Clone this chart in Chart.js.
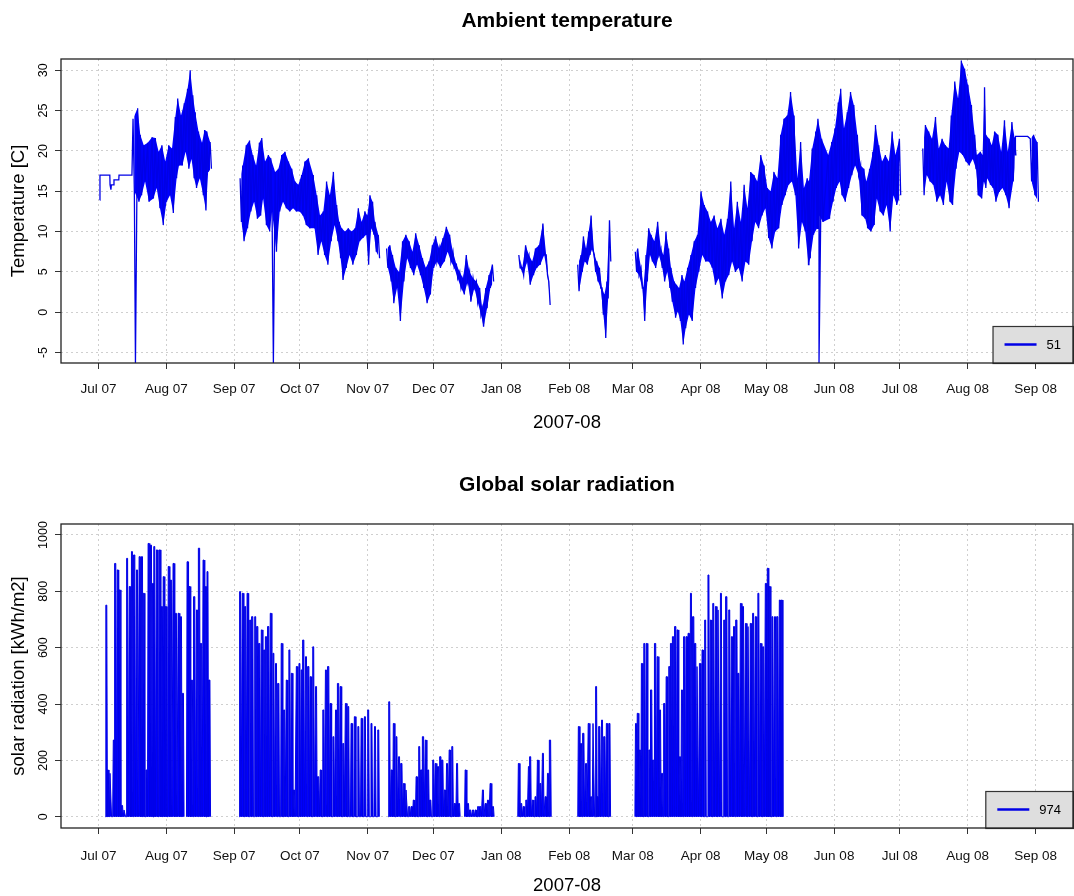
<!DOCTYPE html>
<html>
<head>
<meta charset="utf-8">
<script src="https://cdn.jsdelivr.net/npm/chart.js@4.4.1/dist/chart.umd.min.js"></script>
<style>
  body { margin: 0; background: #fff; }
  .panel { width: 1074px; height: 448px; position: relative; }
  canvas { display: block; }
</style>
</head>
<body>
<div class="panel"><canvas id="temp" width="1074" height="448"></canvas></div>
<div class="panel"><canvas id="rad" width="1074" height="448"></canvas></div>
<script>
// x axis: days since 1 Jul 2007
const monthDays = [0, 31, 62, 92, 123, 153, 184, 215, 244, 275, 305, 336, 366, 397, 428];
const monthLabels = ["Jul 07", "Aug 07", "Sep 07", "Oct 07", "Nov 07", "Dec 07", "Jan 08", "Feb 08",
    "Mar 08", "Apr 08", "May 08", "Jun 08", "Jul 08", "Aug 08", "Sep 08"];

const tempTicks = [-5, 0, 5, 10, 15, 20, 25, 30];
const radTicks = [0, 200, 400, 600, 800, 1000];

// ambient temperature: day, upper and lower envelope (null = no data)
const tempDay = [
    0.6, 0.7, 5.2, 5.3, 5.7, 5.9, 7.0, 7.1, 9.3, 9.4, 15.3,
    15.8, 16.9, 17.9, 19.1, 20.7, 22.5, 24.5, 26.0, 27.5, 29.0, 30.5, 32.1, 33.6, 35.1, 36.2, 37.7, 39.2, 40.7, 41.9, 43.1, 44.2, 45.7, 47.3, 48.5, 49.5, 51.0,
    57,
    64.7, 65.9, 67.5, 69.0, 70.5, 72.0, 73.5, 74.6, 76.1, 77.6, 78.7, 79.9, 80.7, 82.2, 83.7, 85.2, 86.8, 88.3, 89.8, 91.3, 92.8, 94.3, 95.9,
    98.1, 99.7, 101.2, 102.7, 104.2, 105.7, 107.3, 108.8, 110.0, 111.1, 112.6, 114.1, 115.6, 117.2, 118.7, 120.2, 121.7, 122.8, 124.0, 125.2, 126.3, 127.8,
    130,
    131.6, 133.1, 134.3, 135.8, 137.3, 138.9, 140.4, 141.9, 143.4, 144.9, 146.5, 148.0, 149.5, 151.0, 152.5, 154.0, 155.6, 157.4, 158.9, 160.4, 161.9, 163.5, 165.0, 166.5, 168.0, 169.5, 171.1, 172.6, 174.1, 175.3, 176.9, 178.4, 179.9,
    186,
    192.0, 193.6, 195.1, 196.6, 198.1, 199.6, 201.2, 203.0, 204.5, 205.7,
    212,
    218.9, 220.4, 221.5, 222.7, 223.9, 225.0, 226.5, 227.6, 228.8, 230.0, 231.1, 232.2, 233.4,
    240,
    245.2, 246.3, 247.8, 248.9, 250.1, 251.3, 252.4, 253.9, 255.4, 256.9, 258.0, 259.2, 260.4, 261.5, 263.0, 264.0, 265.2, 266.5, 267.6, 269.1,
    270.6, 272.1, 273.6, 275.2, 276.7, 278.2, 279.7, 281.2, 282.7, 284.3, 285.8, 287.3, 288.8, 290.3, 291.8, 293.4, 294.9, 296.4, 297.9, 299.4,
    300.9, 302.5, 304.0, 305.5, 307.0, 308.5, 310.1, 311.6, 313.1, 314.6, 316.1, 317.7, 319.2, 320.7, 322.2, 323.7, 324.5, 326.0, 327.6, 328.6,
    329.1, 330.3, 333.3, 334.9, 336.4, 337.9, 339.0, 340.5, 342.0, 343.5, 345.0, 346.6, 348.1, 349.6, 350.7, 352.2, 353.7, 354.9, 356.4, 357.9,
    359.4, 361.0, 362.5, 364.0, 365.8,
    371,
    376.5, 377.7, 379.2, 380.7, 382.3, 383.8, 385.3, 386.8, 388.3, 389.5, 391.1, 392.6, 394.1, 395.6, 397.1, 398.7, 400.2, 401.2, 402.8, 403.8,
    404.7, 405.3, 406.8, 408.0, 409.3, 410.8, 412.3, 413.8, 415.3, 417.2, 418.4, 418.8, 424.4, 425.6, 427.1, 428.7
];
const tempHigh = [
    13.9, 17, 17, 15.8, 15.2, 15.8, 15.8, 16.4, 16.4, 17, 17,
    24, -6.3, 25.3, 22, 20.7, 21, 21.7, 21.6, 19.9, 20.7, 18.7, 20.7, 20.3, 24.2, 26.5, 24.4, 25.9, 27.7, 30, 26.9, 24.8, 22.4, 21, 22.6, 22.4, 21.1,
    null,
    16.6, 18.2, 20.7, 21.3, 19.5, 18.2, 21, 21.6, 18.7, 19.5, 19.1, -6.3, 17.4, 17.8, 19.5, 19.9, 18.7, 17.8, 16.2, 15.8, 17, 18.7, 19.1,
    17, 14.5, 12, 12.5, 16.2, 14.5, 17.4, 13.3, 11.2, 10.4, 10, 10.4, 10, 10.4, 12.9, 11.2, 12.5, 12, 14.5, 13.7, 11.2, 9.6,
    null,
    7.9, 8.3, 7.1, 5.5, 5, 8.8, 9.6, 8.8, 7.5, 9.8, 8.3, 6.7, 5.5, 6.3, 8.3, 9.4, 7.9, 9.2, 10.6, 9.6, 7.5, 5.9, 5, 4.2, 7.1, 5, 4.2, 3.8, 3, 0.5, 3, 4.6, 5.9,
    null,
    7.1, 5.5, 8.3, 7.1, 6.3, 7.9, 8.3, 11, 7.1, 3.8,
    null,
    5.9, 7.1, 9.4, 7.9, 10, 12, 7.1, 6.3, 5.5, 3, 2.2, 3.8, 11.4,
    null,
    7.5, 7.9, 5.5, 3, 7.1, 10.4, 9.6, 8.8, 11.2, 7.9, 7.1, 10, 7.9, 5.5, 3.8, 3.4, 3, 4.6, 3.8, 5.5,
    7.1, 8.8, 9.6, 15, 13.3, 12.5, 11.2, 12, 10.4, 11.6, 9.6, 11.6, 16.2, 10.4, 13.7, 11.2, 15.8, 12.9, 17.4, 17,
    16.2, 19.5, 18.2, 15.4, 15, 17.4, 16.6, 22, 24, 24.4, 27.3, 24.4, 16.6, 21.1, 15.4, 16.6, 16.2, 20.3, 22.4, 24,
    -6.3, 21.5, 19.5, 21.1, 22.8, 26, 27.7, 22.8, 24.8, 27.3, 25.7, 22, 18.2, 17.8, 16.2, 17.8, 19.9, 23.2, 20.7, 18.7,
    19.5, 18.7, 22.4, 19.5, 21.5,
    null,
    20.3, 23.2, 22.4, 21.5, 24.2, 20.3, 21.5, 20.7, 20.3, 24.4, 28.6, 26.5, 31.2, 30.2, 28.2, 25.7, 22, 19.5, 19.9, 19.5,
    27.9, 22, 21.5, 20.7, 22.4, 22, 19.9, 23.8, 19.9, 23.6, 21.7, 21.8, 21.8, 21.5, 22, 21.1
];
const tempLow = [
    13.9, 17, 17, 15.8, 15.2, 15.8, 15.8, 16.4, 16.4, 17, 17,
    15, -6.3, 13.7, 14.5, 16.2, 13.7, 14.1, 15.4, 12.9, 10.8, 13.7, 14.5, 12.3, 16.6, 18.2, 18.2, 19.9, 17.8, 19, 16.6, 15.4, 16.6, 14.5, 12.6, 17.4, 17.8,
    null,
    11.2, 8.8, 10.4, 12.5, 13.7, 11.6, 12, 14.1, 10.8, 10, 12.5, -6.3, 7.5, 12.5, 13.7, 12.9, 12.5, 12.9, 12.5, 12.5, 12, 10.8, 10.4,
    10.4, 7.1, 8.8, 7.1, 5.9, 8.8, 10.8, 8.8, 6.7, 4, 5.5, 7.1, 5.9, 7.1, 8.8, 9.2, 9.6, 5.9, 10.4, 9.6, 7.5, 6.7,
    null,
    5.5, 3.8, 1.1, 3, -1.1, 3.8, 6.7, 5.5, 4.6, 5.9, 4.6, 3, 1.1, 2.2, 5.5, 6.3, 5.5, 6.3, 7.5, 6.3, 5.5, 4.2, 3, 2.2, 3.8, 1.3, 3, 1.3, -0.3, -1.8, 0.5, 3, 3.8,
    null,
    5.5, 4.6, 6.3, 3.4, 4.6, 5.5, 5.9, 7.1, 4.6, 0.9,
    null,
    2.6, 5, 6.3, 5.9, 7.1, 7.9, 5, 3.8, 3, -0.3, -3.2, 1.7, 6.3,
    null,
    5, 4.6, 3, -1.1, 3.8, 7.1, 6.3, 5.5, 7.1, 5.5, 3.8, 5, 3, 1.3, -0.7, 0.1, -1.1, -4, -2, -0.3,
    -1.1, 3, 5, 7.1, 6.3, 6.3, 5.5, 3.4, 4.2, 1.7, 3.8, 4.6, 6.3, 5, 5.5, 3.8, 6.3, 5.9, 8.8, 11.2,
    10.4, 12, 12.9, 9.2, 7.9, 10, 10.4, 13.3, 14.5, 15.8, 16.2, 14.5, 7.9, 11.2, 10, 5.9, 6.7, 9.6, 10.4, 12,
    -6.3, 11.2, 11.6, 13.7, 15.4, 16.2, 14.5, 13.7, 15.4, 17, 18.2, 17, 12, 11.6, 10.4, 10, 10.8, 14.1, 12.5, 12,
    13.3, 10, 14.5, 13.3, 14.5,
    null,
    14.5, 17, 16.2, 15.8, 13.7, 14.5, 13.3, 16.2, 13.7, 13.3, 17.8, 19.9, 19.5, 18.7, 18.2, 19, 17.8, 14.5, 14.1, 16.2,
    15.4, 16.6, 15.8, 15.4, 13.7, 14.9, 15.4, 14.5, 12.9, 16.2, 19.5, 21.8, 21.8, 16.2, 14.5, 13.7
];

// global solar radiation, daily peak (null = no data)
const radDay = [
    3.6, 4.3, 5.5, 7.0, 7.7, 8.8, 9.7, 10.8, 11.9, 13.1, 14.3, 15.3, 16.4, 17.6, 18.8, 19.9, 20.7, 21.9, 22.9, 24.0,
    24.9, 25.5, 26.7, 28.0, 29.0, 29.8, 30.8, 32.1, 33.1, 34.3, 35.4, 36.6, 37.7, 38.6, 39.8,
    40.7, 41.6, 42.7, 43.8, 45.0, 46.0, 46.9, 48.0, 49.1, 49.8, 50.7, 57,
    64.7, 65.9, 67.0, 68.1, 69.3, 70.3, 71.6, 72.6, 73.5, 74.6, 75.7, 76.6, 77.6, 78.7, 79.9, 81.1, 82.2, 83.7, 84.8, 86.0,
    87.2, 88.3, 89.3, 90.6, 91.8, 92.8, 93.6, 94.8, 95.9, 96.9, 98.1, 99.4, 100.4, 101.5, 102.7, 103.9, 105.0, 106.0, 107.3, 108.5,
    109.5, 110.6, 111.8, 113.0, 114.1, 115.6, 117.1, 118.7, 120.2, 121.7, 123.2, 124.7, 126.3, 127.8, 130,
    132.8, 133.9, 134.9, 136.1, 137.3, 138.4, 139.5, 140.7, 141.9, 143.0, 144.0, 145.3, 146.5, 147.5, 148.3, 149.5, 150.6, 151.6, 152.9, 154.0,
    155.1, 156.2, 157.1, 158.2, 159.2, 160.4, 161.6, 162.7, 163.8, 164.7, 166,
    167.7, 168.8, 169.8, 171.1, 172.3, 173.4, 174.4, 175.6, 176.8, 177.9, 179.1, 180.2, 186,
    192.0, 193.1, 194.2, 195.4, 196.6, 197.2, 198.4, 199.6, 200.7, 201.8, 203.0, 204.2, 205.3, 206.3, 213,
    219.4, 220.4, 221.5, 222.7, 223.9, 225.0, 226.1, 227.3, 228.0, 228.8, 230.0, 231.1, 232.2, 233.4, 240,
    245.5, 246.3, 247.3, 248.2, 249.3, 250.4, 251.6, 252.5, 253.4, 254.3, 255.4, 256.5, 257.4, 258.5, 259.5, 260.7, 261.6, 262.5, 263.5, 264.5,
    265.6, 266.5, 267.6, 268.6, 269.5, 270.6, 271.7, 272.6, 273.6, 274.7, 275.9, 277.1, 278.6, 279.7, 280.8, 282.0, 283.2, 284.3, 285.8, 286.8,
    288.1, 289.3, 290.3, 291.4, 292.3, 293.4, 294.4, 295.7, 296.9, 297.9, 299.0, 300.2, 301.4, 302.5, 303.6, 304.8, 305.7, 306.6, 307.8, 309.0,
    310.1, 311.2, 312.1
];
const radPeak = [
    751, 166, 154, 272, 899, 876, 805, 40, 24, 917, 817, 941, 929, 876, 923, 923, 793, 166, 970, 964,
    828, 959, 947, 947, 746, 852, 746, 888, 840, 899, 722, 722, 710, 438, null,
    905, 817, 485, 781, 734, 953, 615, 911, 817, 870, 485, null,
    799, 793, 746, 793, 698, 710, 710, 675, 615, 663, 592, 639, 675, 722, 580, 544, 473, 615, 379, 485,
    592, 509, 95, 533, 544, 521, 627, 568, 533, 497, 603, 462, 142, 166, 379, 521, 533, 402, 284, 379,
    473, 462, 260, 402, 391, 331, 355, 320, 349, 355, 379, 331, 320, 308, null,
    408, 166, 331, 284, 213, 189, 118, 95, 36, 36, 59, 142, 249, 166, 284, 272, 166, 59, 201, 189,
    178, 213, 201, 95, 189, 237, 249, 47, 189, 47, null,
    166, 47, 24, 24, 24, 36, 36, 95, 47, 59, 118, 36, null,
    189, 47, 36, 59, 178, 213, 59, 71, 201, 118, 225, 71, 154, 272, null,
    320, 260, 296, 189, 331, 71, 331, 462, 71, 320, 343, 284, 331, 331, null,
    331, 367, 237, 544, 615, 615, 237, 450, 201, 615, 568, 379, 154, 402, 497, 533, 615, 639, 675, 663,
    213, 450, 639, 639, 651, 793, 710, 615, 533, 544, 592, 698, 858, 698, 757, 746, 734, 793, 698, 781,
    734, 639, 675, 698, 509, 757, 746, 686, 675, 686, 722, 710, 793, 615, 603, 828, 882, 817, 710, 710,
    710, 769, 769
];

const lineBlue = "#0000e6";
const fillBlue = "#0000ff";
const fontFamily = '"Liberation Sans", Arial, Helvetica, sans-serif';
Chart.defaults.font.family = fontFamily;

// each reading becomes an up/down swing, like the hourly record it comes from
const tempPoints = [];
const bandUpper = [];
const bandLower = [];
tempDay.forEach((d, i) => {
    const hi = tempHigh[i], lo = tempLow[i];
    if (hi === null) {
        tempPoints.push({ x: d, y: null });
        bandUpper.push({ x: d, y: null });
        bandLower.push({ x: d, y: null });
    } else if (hi === lo) {
        tempPoints.push({ x: d, y: hi });
        if (hi > -6) {
            bandUpper.push({ x: d, y: null });
            bandLower.push({ x: d, y: null });
        }
    } else {
        tempPoints.push({ x: d, y: hi });
        tempPoints.push({ x: d + 0.6, y: lo });
        bandUpper.push({ x: d, y: hi });
        bandLower.push({ x: d + 0.6, y: lo });
    }
});

const radPoints = [];
radDay.forEach((d, i) => {
    const p = radPeak[i];
    if (p === null) {
        radPoints.push({ x: d, y: null });
    } else {
        radPoints.push({ x: d - 0.5, y: 0 });
        radPoints.push({ x: d - 0.22, y: p });
        radPoints.push({ x: d + 0.22, y: p });
        radPoints.push({ x: d + 0.5, y: 0 });
    }
});

// R-style frame: box, titles, rotated y labels, legend
const rFrame = {
    id: "rFrame",
    afterDraw(chart, args, opts) {
        const ctx = chart.ctx;
        const a = chart.chartArea;
        const yScale = chart.scales.y;
        const cx = (a.left + a.right) / 2;
        ctx.save();
        ctx.fillStyle = "#000";

        ctx.font = "bold 21px " + fontFamily;
        ctx.textAlign = "center";
        ctx.textBaseline = "middle";
        ctx.fillText(opts.title, cx, opts.titleY);

        ctx.font = "18.5px " + fontFamily;
        ctx.fillText("2007-08", cx, opts.xTitleY);

        ctx.save();
        ctx.translate(19, (a.top + a.bottom) / 2);
        ctx.rotate(-Math.PI / 2);
        ctx.fillText(opts.yTitle, 0, 0);
        ctx.restore();

        ctx.font = "12.5px " + fontFamily;
        opts.yTicks.forEach(v => {
            ctx.save();
            ctx.translate(44, yScale.getPixelForValue(v));
            ctx.rotate(-Math.PI / 2);
            ctx.fillText(String(v), 0, 0);
            ctx.restore();
        });

        // legend, bottom right
        ctx.font = "13px " + fontFamily;
        const tw = ctx.measureText(opts.legend).width;
        const lw = 12 + 32 + 10 + tw + 12;
        const lh = 37;
        const lx = a.right - lw;
        const ly = a.bottom - lh;
        ctx.fillStyle = "#dedede";
        ctx.fillRect(lx, ly, lw, lh);
        ctx.strokeStyle = "#333";
        ctx.lineWidth = 1.2;
        ctx.strokeRect(lx + 0.5, ly + 0.5, lw, lh);
        ctx.strokeStyle = lineBlue;
        ctx.lineWidth = 2.5;
        ctx.beginPath();
        ctx.moveTo(lx + 12, ly + lh / 2);
        ctx.lineTo(lx + 44, ly + lh / 2);
        ctx.stroke();
        ctx.fillStyle = "#000";
        ctx.textAlign = "left";
        ctx.fillText(opts.legend, lx + 54, ly + lh / 2 + 1);

        ctx.strokeStyle = "#222";
        ctx.lineWidth = 1.3;
        ctx.strokeRect(a.left, a.top, a.right - a.left, a.bottom - a.top);
        ctx.restore();
    }
};

function xAxis(height, pad) {
    return {
        type: "linear",
        min: -17.1,
        max: 445.1,
        afterBuildTicks: s => { s.ticks = monthDays.map(v => ({ value: v })); },
        afterFit: s => { s.height = height; },
        ticks: {
            autoSkip: false, maxRotation: 0, minRotation: 0, padding: pad,
            color: "#111", font: { size: 13.5 },
            callback: (v, i) => monthLabels[i]
        },
        grid: { color: "#cfcfcf", lineWidth: 1, tickLength: 6, tickColor: "#333", tickWidth: 1 },
        border: { display: false, dash: [2, 3] }
    };
}

function yAxis(min, max, ticks) {
    return {
        type: "linear",
        min: min,
        max: max,
        afterBuildTicks: s => { s.ticks = ticks.map(v => ({ value: v })); },
        afterFit: s => { s.width = 61; },
        ticks: { display: false },
        grid: { color: "#cfcfcf", lineWidth: 1, tickLength: 6, tickColor: "#333", tickWidth: 1 },
        border: { display: false, dash: [2, 3] }
    };
}

new Chart(document.getElementById("temp"), {
    type: "line",
    data: {
        datasets: [{
            label: "51",
            data: tempPoints,
            borderColor: lineBlue,
            borderWidth: 1.3,
            pointRadius: 0,
            tension: 0,
            spanGaps: false,
            fill: false
        }, {
            label: "upper",
            data: bandUpper,
            borderWidth: 0,
            borderColor: "rgba(0,0,0,0)",
            backgroundColor: fillBlue,
            pointRadius: 0,
            tension: 0,
            spanGaps: false,
            fill: "+1"
        }, {
            label: "lower",
            data: bandLower,
            borderWidth: 0,
            borderColor: "rgba(0,0,0,0)",
            pointRadius: 0,
            tension: 0,
            spanGaps: false,
            fill: false
        }]
    },
    options: {
        responsive: false,
        animation: false,
        devicePixelRatio: 1,
        layout: { padding: { top: 59, right: 1, left: 0, bottom: 0 } },
        scales: { x: xAxis(85, 12), y: yAxis(-6.3, 31.4, tempTicks) },
        plugins: {
            legend: { display: false },
            tooltip: { enabled: false },
            rFrame: { title: "Ambient temperature", titleY: 21, xTitleY: 423, yTitle: "Temperature [C]", yTicks: tempTicks, legend: "51" }
        }
    },
    plugins: [rFrame]
});

new Chart(document.getElementById("rad"), {
    type: "line",
    data: {
        datasets: [{
            label: "974",
            data: radPoints,
            borderColor: lineBlue,
            backgroundColor: fillBlue,
            borderWidth: 1,
            pointRadius: 0,
            tension: 0,
            spanGaps: false,
            fill: "origin"
        }]
    },
    options: {
        responsive: false,
        animation: false,
        devicePixelRatio: 1,
        layout: { padding: { top: 76, right: 1, left: 0, bottom: 0 } },
        scales: { x: xAxis(68, 14), y: yAxis(-40, 1039, radTicks) },
        plugins: {
            legend: { display: false },
            tooltip: { enabled: false },
            rFrame: { title: "Global solar radiation", titleY: 37, xTitleY: 438, yTitle: "solar radiation [kWh/m2]", yTicks: radTicks, legend: "974" }
        }
    },
    plugins: [rFrame]
});
</script>
</body>
</html>
